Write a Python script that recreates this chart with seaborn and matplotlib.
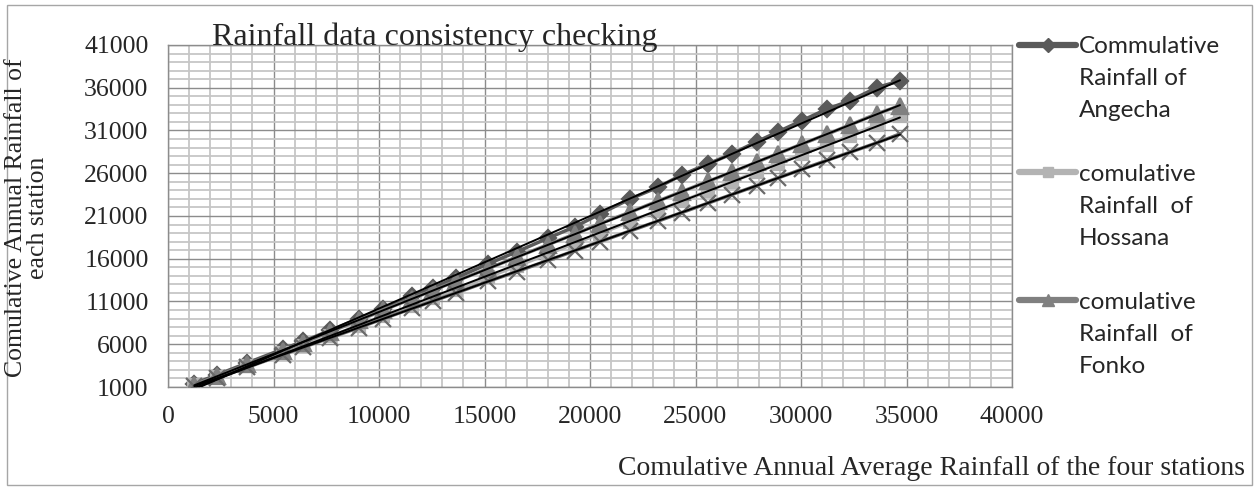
import numpy as np
import pandas as pd
import matplotlib
matplotlib.use("Agg")
import matplotlib.pyplot as plt
import seaborn as sns
from matplotlib.lines import Line2D
from matplotlib.patches import Rectangle
from matplotlib.ticker import MultipleLocator, FixedLocator

# ---------------- data ----------------
avg_cum = [1250, 2310, 3760, 5460, 6410, 7680, 9050, 10210, 11580, 12560, 13650,
           15170, 16530, 18010, 19290, 20470, 21900, 23220, 24350, 25590, 26710,
           27900, 28910, 30030, 31220, 32320, 33590, 34690]
angecha = [1400, 2410, 3820, 5450, 6340, 7620, 9000, 10160, 11600, 12620, 13760,
           15400, 16820, 18410, 19750, 21240, 23000, 24360, 25800, 27090, 28250,
           29690, 30850, 32140, 33500, 34470, 36020, 36800]
hossana = [1250, 2190, 3440, 4970, 5810, 6940, 8170, 9250, 10470, 11390, 12400,
           13870, 15130, 16560, 17800, 18950, 20340, 21620, 22720, 23920, 25020,
           26130, 27120, 28210, 29320, 30390, 31630, 32700]
fonko = [1250, 2250, 3650, 5250, 6200, 7450, 8800, 10000, 11350, 12300, 13400,
         14850, 16200, 17650, 18900, 20100, 21450, 22750, 23850, 25050, 26100,
         27300, 28300, 29400, 30550, 31650, 32950, 33900]
fourth = [1100, 2050, 3300, 4800, 5650, 6750, 7950, 9000, 10200, 11050, 12000,
          13350, 14500, 15800, 16950, 18000, 19250, 20400, 21400, 22500, 23500,
          24550, 25450, 26450, 27500, 28450, 29550, 30600]

legend_lines = [
    ["Commulative", "Rainfall of", "Angecha"],
    ["comulative", "Rainfall  of", "Hossana"],
    ["comulative", "Rainfall  of", "Fonko"],
]
x_ticks = list(range(0, 40001, 5000))
y_ticks = list(range(1000, 41001, 5000))

title = "Rainfall data consistency checking"
x_label = "Comulative Annual Average Rainfall of the four stations"
y_label = "Comulative Annual Rainfall of\neach station"

# ---------------- styling ----------------
sns.set_style("white")
plt.rcParams["font.family"] = ["Liberation Serif", "DejaVu Serif"]

W, H = 1259, 487
fig = plt.figure(figsize=(W / 100, H / 100), dpi=100)
ax = fig.add_axes([168 / W, 1 - 387 / H, (1012 - 168) / W, (387 - 45) / H])

styles = [
    dict(vals=angecha, color="#5a5a5a", marker="D", ms=8),
    dict(vals=hossana, color="#b3b3b3", marker="s", ms=9),
    dict(vals=fonko, color="#808080", marker="^", ms=11),
    dict(vals=fourth, color="#6a6a6a", marker="x", ms=11),
]

for st in styles:
    sns.lineplot(x=avg_cum, y=st["vals"], ax=ax, color=st["color"],
                 marker=st["marker"], markersize=st["ms"], lw=2.5,
                 markeredgecolor=st["color"], markeredgewidth=1.6,
                 legend=False, zorder=3)

for st in styles:
    sns.regplot(x=np.array(avg_cum), y=np.array(st["vals"]), ax=ax, scatter=False,
                ci=None, truncate=True, color="black",
                line_kws=dict(lw=1.4, zorder=4))

ax.set_xlabel("")
ax.set_ylabel("")
ax.set_xlim(0, 40000)
ax.set_ylim(1000, 41000)
ax.xaxis.set_major_locator(FixedLocator(x_ticks))
ax.xaxis.set_minor_locator(MultipleLocator(1000))
ax.yaxis.set_major_locator(FixedLocator(y_ticks))
ax.yaxis.set_minor_locator(MultipleLocator(1000))
ax.set_axisbelow(True)
ax.grid(which="minor", color="#c6c6c6", lw=1.3)
ax.grid(which="major", color="#8c8c8c", lw=1.0)
for s in ax.spines.values():
    s.set_color("#8c8c8c")
    s.set_linewidth(1.0)
ax.tick_params(which="major", direction="out", length=6, width=1,
               color="#8c8c8c", labelsize=18.5, pad=8)
ax.tick_params(which="minor", length=0)

# title and axis labels
fig.text(212 / W, 1 - 45 / H, title, fontsize=23, ha="left", va="baseline")
fig.text(1245 / W, 1 - 475 / H, x_label, fontsize=20, ha="right", va="baseline")
fig.text(27 / W, 1 - 218 / H, y_label, fontsize=18.5, rotation=90, ha="center",
         va="center", multialignment="center", linespacing=0.95)

# legend
handles, labels = [], []
blank = Line2D([], [], linestyle="none")
for i, (st, lines) in enumerate(zip(styles[:3], legend_lines)):
    h = Line2D([], [], color=st["color"], lw=4.5, marker=st["marker"],
               markersize=st["ms"] * 0.85, markeredgecolor=st["color"])
    handles.append(h)
    labels.append(lines[0])
    for ln in lines[1:]:
        handles.append(blank)
        labels.append(ln)
    if i < 2:
        handles.append(blank)
        labels.append(" ")
fig.legend(handles, labels, loc="upper left", bbox_to_anchor=(1019 / W, 1 - 36 / H),
           frameon=False, handlelength=2.35, handletextpad=0.1, labelspacing=0.45,
           borderpad=0, borderaxespad=0,
           prop=dict(family="Lato", size=17.5))

# chart border
fig.add_artist(Rectangle((7 / W, 2 / H), (1252 - 7) / W, (482 - 2) / H,
                         transform=fig.transFigure, fill=False,
                         edgecolor="#a6a6a6", lw=1.0))

fig.savefig("out.png", dpi=100)
